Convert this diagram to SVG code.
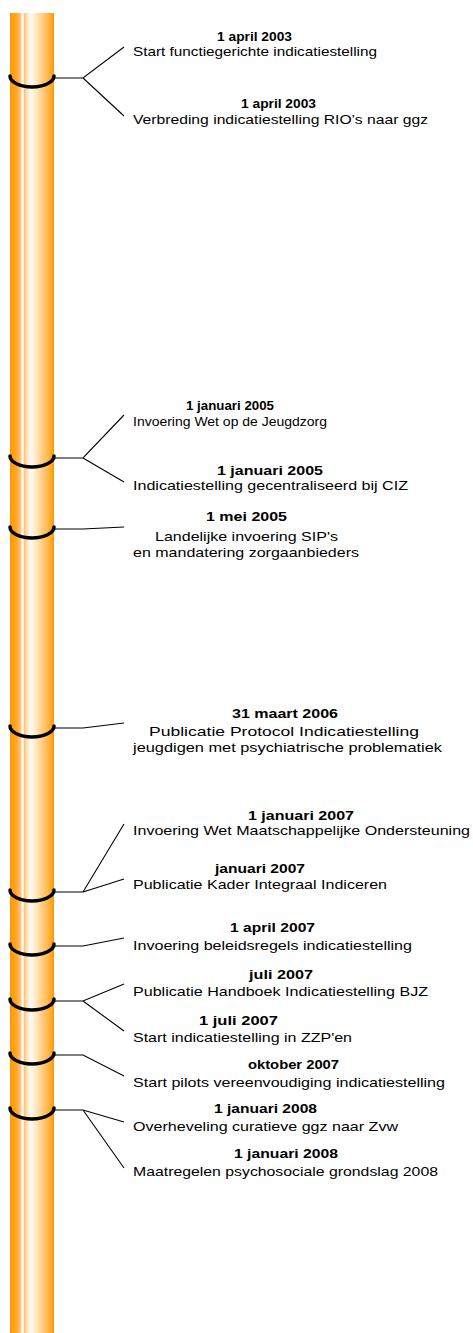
<svg xmlns="http://www.w3.org/2000/svg" width="473" height="1333" viewBox="0 0 473 1333">
<defs>
<linearGradient id="pole" x1="10" y1="0" x2="54" y2="0" gradientUnits="userSpaceOnUse">
<stop offset="0" stop-color="#FF9900"/>
<stop offset="0.14" stop-color="#FFA526"/>
<stop offset="0.25" stop-color="#FFC680"/>
<stop offset="0.27" stop-color="#FFFFFF"/>
<stop offset="0.30" stop-color="#FFFFFF"/>
<stop offset="0.32" stop-color="#FFC070"/>
<stop offset="0.37" stop-color="#FFDAA8"/>
<stop offset="0.46" stop-color="#FFFAF2"/>
<stop offset="0.53" stop-color="#FFF3E0"/>
<stop offset="0.68" stop-color="#FFD699"/>
<stop offset="0.86" stop-color="#FFB84D"/>
<stop offset="1" stop-color="#FF9900"/>
</linearGradient>
</defs>
<style>
.ring{fill:none;stroke:#000;stroke-width:3.5;stroke-linecap:round}
.con{fill:none;stroke:#000;stroke-width:1.1}
text{font-family:"Liberation Sans",Arial,sans-serif;font-size:13.5px;fill:#000}
.d{font-weight:bold}
</style>
<rect id="pole-shape" x="10" y="13" width="44" height="1320" fill="url(#pole)"/>
<g id="rings">
<path class="ring" d="M10,76 A22,11 0 0 0 54,76"/>
<path class="ring" d="M10,456 A22,11 0 0 0 54,456"/>
<path class="ring" d="M10,527 A22,11 0 0 0 54,527"/>
<path class="ring" d="M10,726 A22,11 0 0 0 54,726"/>
<path class="ring" d="M10,890 A22,11 0 0 0 54,890"/>
<path class="ring" d="M10,944 A22,11 0 0 0 54,944"/>
<path class="ring" d="M10,999 A22,11 0 0 0 54,999"/>
<path class="ring" d="M10,1053 A22,11 0 0 0 54,1053"/>
<path class="ring" d="M10,1108 A22,11 0 0 0 54,1108"/>
</g>
<g id="connectors">
<path class="con" d="M54,78 H83 L124,47 M83,78 L124,116"/>
<path class="con" d="M54,458 H83 L124,415 M83,458 L124,482"/>
<path class="con" d="M54,529 H83 L124,527"/>
<path class="con" d="M54,728 H83 L124,723"/>
<path class="con" d="M54,892 H83 L124,824 M83,892 L124,879"/>
<path class="con" d="M54,946 H83 L124,938"/>
<path class="con" d="M54,1001 H83 L124,984 M83,1001 L124,1031"/>
<path class="con" d="M54,1055 H83 L124,1076"/>
<path class="con" d="M54,1110 H83 L124,1122 M83,1110 L124,1168"/>
</g>
<g id="e1"><text class="d" x="217" y="41" textLength="75" lengthAdjust="spacingAndGlyphs">1 april 2003</text><text x="133" y="56" textLength="244" lengthAdjust="spacingAndGlyphs">Start functiegerichte indicatiestelling</text></g>
<g id="e2"><text class="d" x="241" y="108" textLength="75" lengthAdjust="spacingAndGlyphs">1 april 2003</text><text x="133" y="124" textLength="295" lengthAdjust="spacingAndGlyphs">Verbreding indicatiestelling RIO’s naar ggz</text></g>
<g id="e3"><text class="d" x="186" y="410" textLength="88" lengthAdjust="spacingAndGlyphs">1 januari 2005</text><text x="133" y="426" textLength="194" lengthAdjust="spacingAndGlyphs">Invoering Wet op de Jeugdzorg</text></g>
<g id="e4"><text class="d" x="217" y="475" textLength="106" lengthAdjust="spacingAndGlyphs">1 januari 2005</text><text x="133" y="490" textLength="275" lengthAdjust="spacingAndGlyphs">Indicatiestelling gecentraliseerd bij CIZ</text></g>
<g id="e5"><text class="d" x="206" y="521" textLength="81" lengthAdjust="spacingAndGlyphs">1 mei 2005</text><text x="155" y="541" textLength="183" lengthAdjust="spacingAndGlyphs">Landelijke invoering SIP's</text><text x="133" y="557" textLength="226" lengthAdjust="spacingAndGlyphs">en mandatering zorgaanbieders</text></g>
<g id="e6"><text class="d" x="232" y="718" textLength="106" lengthAdjust="spacingAndGlyphs">31 maart 2006</text><text x="149" y="736" textLength="270" lengthAdjust="spacingAndGlyphs">Publicatie Protocol Indicatiestelling</text><text x="133" y="752" textLength="309" lengthAdjust="spacingAndGlyphs">jeugdigen met psychiatrische problematiek</text></g>
<g id="e7"><text class="d" x="248" y="820" textLength="106" lengthAdjust="spacingAndGlyphs">1 januari 2007</text><text x="133" y="835" textLength="337" lengthAdjust="spacingAndGlyphs">Invoering Wet Maatschappelijke Ondersteuning</text></g>
<g id="e8"><text class="d" x="215" y="873" textLength="90" lengthAdjust="spacingAndGlyphs">januari 2007</text><text x="133" y="889" textLength="254" lengthAdjust="spacingAndGlyphs">Publicatie Kader Integraal Indiceren</text></g>
<g id="e9"><text class="d" x="230" y="932" textLength="85" lengthAdjust="spacingAndGlyphs">1 april 2007</text><text x="133" y="950" textLength="279" lengthAdjust="spacingAndGlyphs">Invoering beleidsregels indicatiestelling</text></g>
<g id="e10"><text class="d" x="249" y="979" textLength="64" lengthAdjust="spacingAndGlyphs">juli 2007</text><text x="133" y="996" textLength="295" lengthAdjust="spacingAndGlyphs">Publicatie Handboek Indicatiestelling BJZ</text></g>
<g id="e11"><text class="d" x="199" y="1025" textLength="79" lengthAdjust="spacingAndGlyphs">1 juli 2007</text><text x="133" y="1042" textLength="219" lengthAdjust="spacingAndGlyphs">Start indicatiestelling in ZZP'en</text></g>
<g id="e12"><text class="d" x="248" y="1069" textLength="91" lengthAdjust="spacingAndGlyphs">oktober 2007</text><text x="133" y="1087" textLength="312" lengthAdjust="spacingAndGlyphs">Start pilots vereenvoudiging indicatiestelling</text></g>
<g id="e13"><text class="d" x="214" y="1113" textLength="103" lengthAdjust="spacingAndGlyphs">1 januari 2008</text><text x="133" y="1131" textLength="265" lengthAdjust="spacingAndGlyphs">Overheveling curatieve ggz naar Zvw</text></g>
<g id="e14"><text class="d" x="234" y="1158" textLength="104" lengthAdjust="spacingAndGlyphs">1 januari 2008</text><text x="133" y="1176" textLength="305" lengthAdjust="spacingAndGlyphs">Maatregelen psychosociale grondslag 2008</text></g>
</svg>
